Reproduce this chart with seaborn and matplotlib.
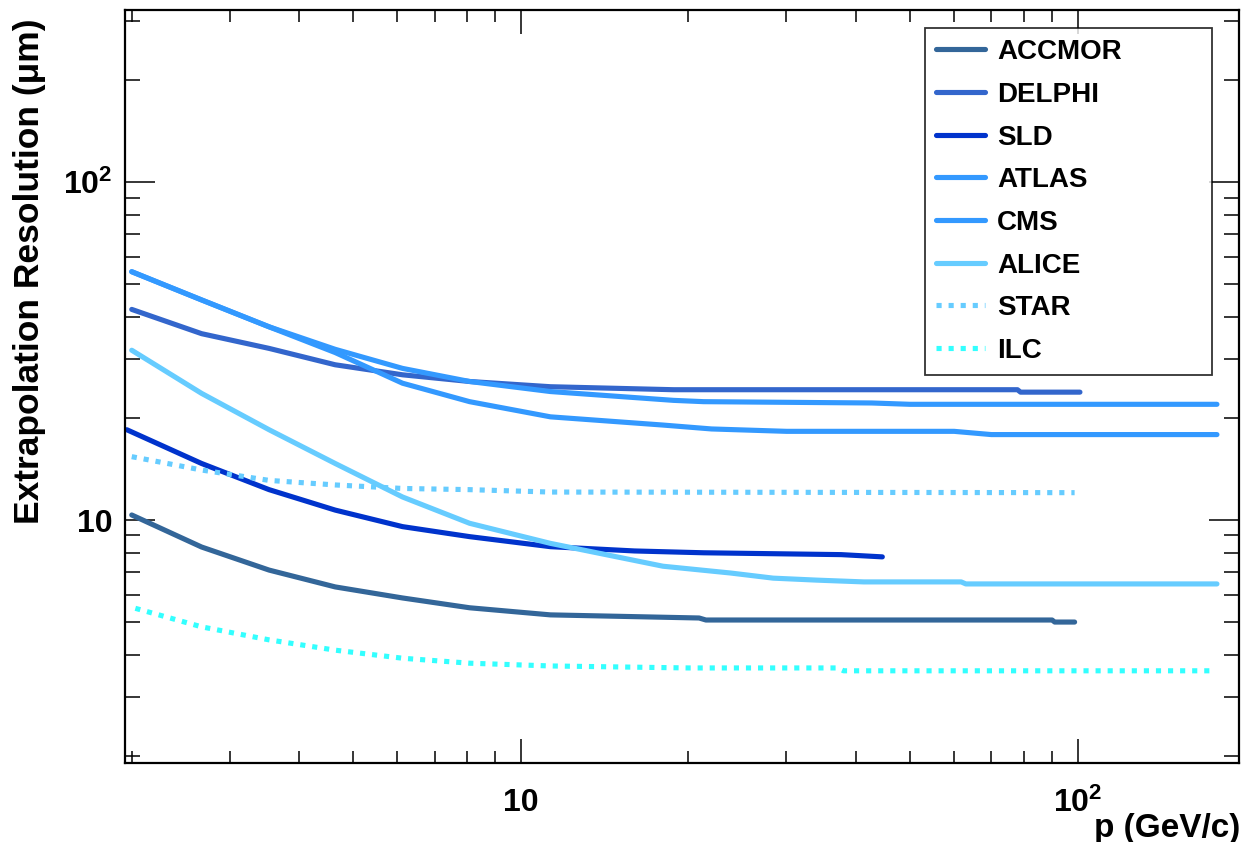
# -*- coding: UTF-8 -*-
# extrapolation resolution vs momentum, ROOT-like log-log plot
import matplotlib
matplotlib.use('Agg')
import matplotlib.pyplot as plt
import matplotlib.ticker as mticker
import numpy as np
import pandas as pd
import seaborn as sns

# data (p in GeV/c, resolution in um)
experiments = ['ACCMOR', 'DELPHI', 'SLD', 'ATLAS', 'CMS', 'ALICE', 'STAR', 'ILC']

accmor_p = [2.0, 2.67, 3.53, 4.64, 6.13, 8.09, 11.3, 20.9, 21.5, 90, 91, 98.8]
accmor_r = [10.35, 8.32, 7.11, 6.34, 5.88, 5.50, 5.24, 5.13, 5.06, 5.06, 4.99, 4.99]

delphi_p = [2.0, 2.67, 3.53, 4.64, 6.13, 8.09, 11.3, 18.8, 78, 79, 101]
delphi_r = [42.0, 35.6, 32.2, 28.8, 26.9, 25.7, 24.8, 24.3, 24.3, 23.9, 23.9]

sld_p = [1.96, 2.67, 3.53, 4.64, 6.13, 8.09, 11.3, 16, 21.3, 37.6, 44.6]
sld_r = [18.5, 14.7, 12.3, 10.7, 9.56, 8.93, 8.34, 8.1, 8.0, 7.9, 7.78]

atlas_p = [2.0, 2.67, 3.53, 4.64, 6.13, 8.09, 11.3, 18.8, 21.3, 42.7, 50, 178]
atlas_r = [54.3, 44.8, 37.3, 32.0, 28.1, 25.7, 24.0, 22.6, 22.4, 22.2, 22.0, 22.0]

cms_p = [2.0, 2.67, 3.53, 4.64, 6.13, 8.09, 11.3, 18.0, 22, 30, 60, 70, 178]
cms_r = [54.3, 44.8, 37.3, 31.3, 25.4, 22.4, 20.2, 19.1, 18.6, 18.3, 18.3, 17.9, 17.9]

alice_p = [2.0, 2.67, 3.53, 4.64, 6.13, 8.09, 11.3, 18.0, 23.8, 28.4, 34.0, 41.3, 61.8, 63, 178]
alice_r = [31.8, 23.7, 18.5, 14.7, 11.7, 9.78, 8.53, 7.3, 6.97, 6.73, 6.64, 6.56, 6.56, 6.47, 6.47]

star_p = [2.0, 2.67, 3.53, 4.64, 6.13, 8.09, 11.3, 98.8]
star_r = [15.4, 14.06, 13.1, 12.7, 12.4, 12.3, 12.1, 12.05]

ilc_p = [2.03, 2.67, 3.53, 4.64, 6.13, 8.09, 11.3, 20, 37, 38, 175]
ilc_r = [5.48, 4.83, 4.42, 4.12, 3.90, 3.77, 3.70, 3.65, 3.65, 3.58, 3.58]

colors = ['#336699', '#3366cc', '#0033cc', '#3399ff', '#3399ff', '#66ccff', '#66ccff', '#33ffff']

# long form table for seaborn
series = [(accmor_p, accmor_r), (delphi_p, delphi_r), (sld_p, sld_r), (atlas_p, atlas_r),
          (cms_p, cms_r), (alice_p, alice_r), (star_p, star_r), (ilc_p, ilc_r)]
frames = []
for name, (p, r) in zip(experiments, series):
    frames.append(pd.DataFrame({'p': p, 'res': r, 'exp': name}))
df = pd.concat(frames, ignore_index=True)

sns.set_style('white')
plt.rcParams['font.family'] = ['Liberation Sans', 'DejaVu Sans']
plt.rcParams['font.weight'] = 'bold'
plt.rcParams['text.color'] = 'black'
plt.rcParams['axes.labelcolor'] = 'black'
plt.rcParams['xtick.color'] = 'black'
plt.rcParams['ytick.color'] = 'black'
plt.rcParams['mathtext.fontset'] = 'custom'
plt.rcParams['mathtext.rm'] = 'Liberation Sans:bold'
plt.rcParams['mathtext.it'] = 'Liberation Sans:bold'
plt.rcParams['mathtext.bf'] = 'Liberation Sans:bold'

fig = plt.figure(figsize=(12.43, 8.42), dpi=100)
ax = fig.add_axes([125/1243, 1-763/842, 1114/1243, 753/842])

palette = dict(zip(experiments, colors))
dashes = {e: '' for e in experiments}
dashes['STAR'] = (1.0, 1.35)
dashes['ILC'] = (1.0, 1.35)

sns.lineplot(data=df, x='p', y='res', hue='exp', style='exp', hue_order=experiments,
             style_order=experiments, palette=palette, dashes=dashes, sort=False,
             estimator=None, linewidth=3.7, legend=False, ax=ax)

ax.set_xscale('log')
ax.set_yscale('log')
ax.set_xlim(1.945, 195)
ax.set_ylim(1.91, 323)

# ROOT style ticks: inside, on all four sides
def root_label(v, pos):
    if abs(v - 10) < 1e-6:
        return '10'
    if abs(v - 100) < 1e-6:
        return r'$10^{2}$'
    return ''

for axis in [ax.xaxis, ax.yaxis]:
    axis.set_major_locator(mticker.FixedLocator([10, 100]))
    axis.set_major_formatter(mticker.FuncFormatter(root_label))
    axis.set_minor_locator(mticker.LogLocator(base=10, subs=np.arange(2, 10), numticks=20))
    axis.set_minor_formatter(mticker.NullFormatter())

ax.tick_params(axis='x', which='major', direction='in', bottom=True, top=True, length=17,
               width=1.1, labelsize=23, pad=18)
ax.tick_params(axis='x', which='minor', direction='in', bottom=True, top=True, length=8.6, width=1.1)
ax.tick_params(axis='y', which='major', direction='in', left=True, right=True, length=21.6,
               width=1.1, labelsize=23, pad=9)
ax.tick_params(axis='y', which='minor', direction='in', left=True, right=True, length=10.8, width=1.1)
for s in ax.spines.values():
    s.set_linewidth(1.6)
    s.set_color('black')

ax.set_xlabel('p (GeV/c)', fontsize=24, fontweight='bold', loc='right')
ax.xaxis.set_label_coords(1.001, -0.066)
ax.set_ylabel('Extrapolation Resolution (μm)', fontsize=25.5, fontweight='bold', loc='top')
ax.yaxis.set_label_coords(-0.071, 0.989)

handles = ax.get_lines()[:len(experiments)]
leg = ax.legend(handles, experiments, loc='upper left', bbox_to_anchor=(0.718, 0.524, 0.258, 0.452),
                mode='expand', borderaxespad=0, fancybox=False, frameon=True, fontsize=20,
                handlelength=1.75, handletextpad=0.45, labelspacing=0.6, borderpad=0.4)
leg.get_frame().set_edgecolor('black')
leg.get_frame().set_linewidth(1.3)

plt.savefig('out.png', dpi=100)
